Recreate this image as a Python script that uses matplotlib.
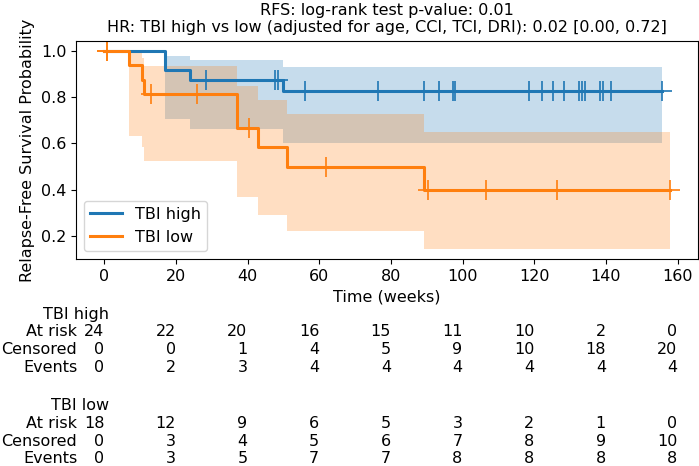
import numpy as np
import matplotlib
matplotlib.use("Agg")
import matplotlib.pyplot as plt
import matplotlib.transforms as mtransforms

# step curves (time in weeks)
high_times = [0, 17, 24, 50]
high_surv = [1.0, 0.917, 0.875, 0.826]
high_lower = [1.0, 0.706, 0.661, 0.600]
high_upper = [1.0, 0.979, 0.958, 0.931]
high_end = 155.6
high_censor = [28.3, 47.6, 48.4, 56, 76.3, 89.2, 93.4, 97.4, 98, 118.5, 122.2,
               125.3, 128.4, 132.4, 133.4, 134.2, 138.3, 139.2, 141.3, 155.6]

low_times = [0, 7, 10.5, 11, 37, 43, 51, 89.2]
low_surv = [1.0, 0.938, 0.875, 0.813, 0.665, 0.582, 0.499, 0.399]
low_lower = [1.0, 0.632, 0.586, 0.525, 0.369, 0.289, 0.220, 0.141]
low_upper = [1.0, 0.991, 0.967, 0.935, 0.846, 0.789, 0.726, 0.650]
low_end = 157.8
low_censor = [0.7, 0.7, 13.1, 26, 40.5, 62, 90.4, 106.4, 126.4, 157.8]

# at risk table
table_ticks = [0, 20, 40, 60, 80, 100, 120, 140, 160]
high_at_risk = [24, 22, 20, 16, 15, 11, 10, 2, 0]
high_censored = [0, 0, 1, 4, 5, 9, 10, 18, 20]
high_events = [0, 2, 3, 4, 4, 4, 4, 4, 4]
low_at_risk = [18, 12, 9, 6, 5, 3, 2, 1, 0]
low_censored = [0, 3, 4, 5, 6, 7, 8, 9, 10]
low_events = [0, 3, 5, 7, 7, 8, 8, 8, 8]

fs = 11.5
plt.rcParams['font.size'] = fs

fig = plt.figure(figsize=(6.99, 4.66), dpi=100)
ax = fig.add_axes([76 / 699, 1 - 259.4 / 466, 622 / 699, 218.6 / 466])


def draw_group(times, surv, lower, upper, end, censor, color, label):
    t = np.append(times, end)
    s = np.append(surv, surv[-1])
    lo = np.append(lower, lower[-1])
    up = np.append(upper, upper[-1])
    ax.fill_between(t, lo, up, step='post', color=color, alpha=0.25, lw=0)
    ax.step(t, s, where='post', color=color, lw=2.2, label=label)
    idx = np.searchsorted(times, censor, side='right') - 1
    ax.plot(censor, np.array(surv)[idx], ls='none', marker='+', ms=14,
            mew=1.2, color=color)


draw_group(high_times, high_surv, high_lower, high_upper, high_end,
           high_censor, '#1f77b4', 'TBI high')
draw_group(low_times, low_surv, low_lower, low_upper, low_end,
           low_censor, '#ff7f0e', 'TBI low')

ax.set_xticks(table_ticks)
ax.set_yticks([0.2, 0.4, 0.6, 0.8, 1.0])
ax.set_xlabel('Time (weeks)')
ax.set_ylabel('Relapse-Free Survival Probability')
ax.set_title('RFS: log-rank test p-value: 0.01\n'
             'HR: TBI high vs low (adjusted for age, CCI, TCI, DRI): 0.02 [0.00, 0.72]',
             fontsize=fs)
ax.legend(loc='lower left')

# at risk counts below the axes
trans = mtransforms.blended_transform_factory(ax.transData, fig.transFigure)
row_names = ['At risk', 'Censored', 'Events']
groups = [
    ('TBI high', [high_at_risk, high_censored, high_events], [314, 332, 350, 368]),
    ('TBI low', [low_at_risk, low_censored, low_events], [405, 423, 441, 458.5]),
]
lab_trans = mtransforms.offset_copy(trans, fig, x=-27, units='dots')
head_trans = mtransforms.offset_copy(trans, fig, x=5, units='dots')
for name, rows, ys in groups:
    ax.text(0, 1 - ys[0] / 466, name, transform=head_trans, ha='right',
            va='center', clip_on=False)
    for r, vals in enumerate(rows):
        y = 1 - ys[r + 1] / 466
        ax.text(0, y, row_names[r], transform=lab_trans, ha='right',
                va='center', clip_on=False)
        for tk, v in zip(table_ticks, vals):
            ax.text(tk, y, str(v), transform=trans, ha='right', va='center',
                    clip_on=False)

fig.savefig('out.png', dpi=100)
